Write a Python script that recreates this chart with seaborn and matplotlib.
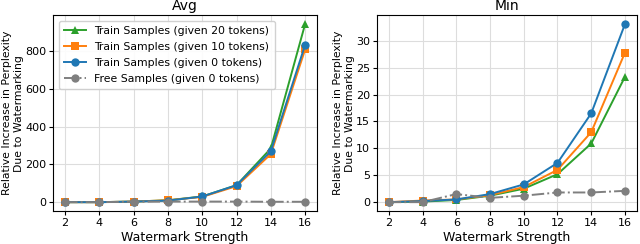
import matplotlib
matplotlib.use("Agg")
import matplotlib.pyplot as plt
import pandas as pd
import seaborn as sns

STRENGTH = [2, 4, 6, 8, 10, 12, 14, 16]
SERIES = [
    "Train Samples (given 20 tokens)",
    "Train Samples (given 10 tokens)",
    "Train Samples (given 0 tokens)",
    "Free Samples (given 0 tokens)",
]
COLORS = ["#2ca02c", "#ff7f0e", "#1f77b4", "#7f7f7f"]
MARKERS = ["^", "s", "o", "o"]
DASHES = ["-", "-", "-", "-."]

AVG_TRAIN_20 = [0, 0, 3, 10, 30, 90, 285, 945]
AVG_TRAIN_10 = [0, 0, 3, 10, 28, 85, 255, 810]
AVG_TRAIN_0 = [0, 0, 3, 8, 30, 90, 270, 835]
AVG_FREE = [0, 0, 2, 3, 3, 3, 2, 2]

MIN_TRAIN_20 = [0, 0.1, 0.4, 1.2, 2.5, 5.2, 10.9, 23.3]
MIN_TRAIN_10 = [0, 0.3, 0.5, 1.3, 2.8, 6.0, 13.0, 27.8]
MIN_TRAIN_0 = [0, 0.2, 0.5, 1.5, 3.3, 7.3, 16.5, 33.1]
MIN_FREE = [0, 0, 1.5, 0.8, 1.2, 1.8, 1.8, 2.1]


def make_frame(values_list):
    rows = []
    for name, values in zip(SERIES, values_list):
        for x, y in zip(STRENGTH, values):
            rows.append({"strength": x, "value": y, "series": name})
    return pd.DataFrame(rows)


def draw_panel(ax, df, title, legend):
    for name, color, marker, ls in zip(SERIES, COLORS, MARKERS, DASHES):
        sub = df[df["series"] == name]
        sns.lineplot(
            data=sub, x="strength", y="value", ax=ax, color=color,
            marker=marker, markersize=6, markeredgewidth=0, linewidth=1.4,
            linestyle=ls, label=name if legend else None, legend=False,
        )
    ax.set_title(title, fontsize=10, pad=4)
    ax.set_xlabel("Watermark Strength", fontsize=9, labelpad=2)
    ax.set_ylabel("Relative Increase in Perplexity\nDue to Watermarking", fontsize=7.8, labelpad=1)
    ax.set_xticks(STRENGTH)
    ax.tick_params(labelsize=8, pad=2, length=3)
    ax.grid(True, color="#dddddd", linewidth=0.8)
    ax.set_axisbelow(True)
    if legend:
        ax.legend(fontsize=7.8, loc="upper left", handlelength=2, borderpad=0.5,
                  labelspacing=0.55, framealpha=0.9)


avg_df = make_frame([AVG_TRAIN_20, AVG_TRAIN_10, AVG_TRAIN_0, AVG_FREE])
min_df = make_frame([MIN_TRAIN_20, MIN_TRAIN_10, MIN_TRAIN_0, MIN_FREE])

fig = plt.figure(figsize=(6.4, 2.44), dpi=100)
ax1 = fig.add_axes([0.083, 0.135, 0.4125, 0.803])
ax2 = fig.add_axes([0.589, 0.135, 0.406, 0.803])

draw_panel(ax1, avg_df, "Avg", True)
draw_panel(ax2, min_df, "Min", False)
ax1.set_yticks([0, 200, 400, 600, 800])
ax2.set_yticks([0, 5, 10, 15, 20, 25, 30])

fig.savefig("out.png", dpi=100)
